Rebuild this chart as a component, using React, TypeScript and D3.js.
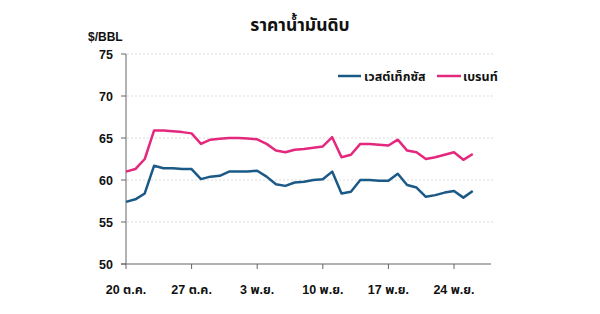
import React from "react";
import * as d3 from "d3";

const dates = ["20 ต.ค.", "27 ต.ค.", "3 พ.ย.", "10 พ.ย.", "17 พ.ย.", "24 พ.ย."];
const yTicks = [50, 55, 60, 65, 70, 75];
const wti = [57.4, 57.7, 58.4, 61.7, 61.4, 61.4, 61.3, 61.3, 60.1, 60.4, 60.5, 61.0, 61.0, 61.0, 61.1, 60.4, 59.5, 59.3, 59.7, 59.8, 60.0, 60.1, 61.0, 58.4, 58.6, 60.0, 60.0, 59.9, 59.9, 60.75, 59.4, 59.1, 58.0, 58.2, 58.5, 58.7, 57.9, 58.7];
const brent = [61.0, 61.3, 62.5, 65.9, 65.9, 65.8, 65.7, 65.55, 64.3, 64.8, 64.9, 65.0, 65.0, 64.95, 64.85, 64.3, 63.5, 63.3, 63.6, 63.7, 63.85, 64.0, 65.1, 62.7, 63.0, 64.3, 64.3, 64.2, 64.1, 64.8, 63.5, 63.3, 62.5, 62.7, 63.0, 63.3, 62.4, 63.1];
const seriesNames = ["เวสต์เท็กซัส", "เบรนท์"];
const colors = ["#1b5987", "#e3287e"];

const FONT = "'Liberation Sans', 'Noto Sans Thai', 'Noto Sans', 'DejaVu Sans', sans-serif";

export default function App() {
  const x = d3.scaleLinear().domain([0, 7]).range([126, 191.6]);
  const y = d3.scaleLinear().domain([50, 75]).range([264, 54]);
  const line = d3.line<number>().x((_, i) => x(i)).y((d) => y(d));
  return (
    <svg width={600} height={314} style={{ position: "absolute", left: 0, top: 0, background: "#fff" }} fontFamily={FONT}>
      <text x={300} y={31} textAnchor="middle" fontSize={17.5} fontWeight="bold" fill="#111">ราคาน้ำมันดิบ</text>
      <text x={88} y={41} fontSize={12} fontWeight="bold" fill="#111">$/BBL</text>
      {yTicks.map((t) => (
        <g key={t}>
          {t > 50 && <line x1={127} x2={493} y1={y(t)} y2={y(t)} stroke="#ddd" strokeDasharray="2,2" />}
          <line x1={121} x2={126} y1={y(t)} y2={y(t)} stroke="#666" />
          <text x={113} y={y(t) + 4.5} textAnchor="end" fontSize={12.5} fontWeight="bold" fill="#111">{t}</text>
        </g>
      ))}
      <line x1={126} x2={126} y1={y(75)} y2={y(50)} stroke="#666" />
      <line x1={121} x2={491} y1={y(50)} y2={y(50)} stroke="#666" />
      {dates.map((d, i) => (
        <g key={d}>
          <line x1={x(i * 7)} x2={x(i * 7)} y1={y(50)} y2={y(50) + 5} stroke="#666" />
          <text x={x(i * 7)} y={294} textAnchor="middle" fontSize={12.5} fontWeight="bold" fill="#111">{d}</text>
        </g>
      ))}
      <path d={line(wti) || ""} fill="none" stroke={colors[0]} strokeWidth={2.5} strokeLinejoin="round" />
      <path d={line(brent) || ""} fill="none" stroke={colors[1]} strokeWidth={2.5} strokeLinejoin="round" />
      <g>
        <line x1={338} x2={361} y1={76} y2={76} stroke={colors[0]} strokeWidth={2.5} />
        <text x={364} y={80.5} fontSize={12.5} fontWeight="bold" fill="#111">{seriesNames[0]}</text>
        <line x1={437} x2={461} y1={76} y2={76} stroke={colors[1]} strokeWidth={2.5} />
        <text x={463} y={80.5} fontSize={12.5} fontWeight="bold" fill="#111">{seriesNames[1]}</text>
      </g>
    </svg>
  );
}
